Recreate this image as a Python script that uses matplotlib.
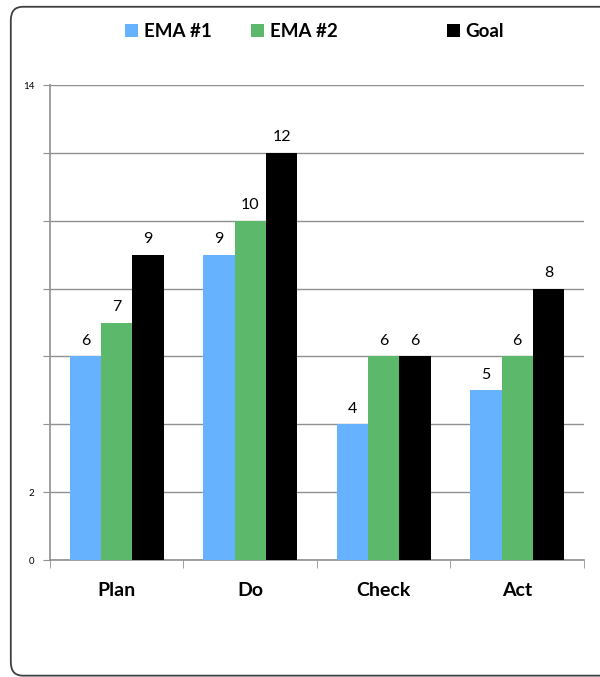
import numpy as np
import matplotlib.pyplot as plt
from matplotlib.patches import FancyBboxPatch

# PDCA scores per phase
categories = ['Plan', 'Do', 'Check', 'Act']
ema1 = [6, 9, 4, 5]
ema2 = [7, 10, 6, 6]
goal = [9, 12, 6, 8]
series_names = ['EMA #1', 'EMA #2', 'Goal']
colors = ['#66B2FF', '#5CB86A', '#000000']

plt.rcParams['font.family'] = ['Lato', 'DejaVu Sans']

fig = plt.figure(figsize=(6, 6.77), dpi=100)
ax = fig.add_axes([0.0833, 0.1728, 0.8900, 0.7016])

# rounded outer frame (right edge runs off the image)
frame = FancyBboxPatch((0.018, 0.002), 1.2, 0.988, boxstyle='round,pad=0,rounding_size=0.02',
                       transform=fig.transFigure, fill=False, edgecolor='#404040', lw=1.3,
                       clip_on=False)
fig.patches.append(frame)

x = np.arange(len(categories))
w = 0.235
handles = []
for i, (vals, name, c) in enumerate(zip([ema1, ema2, goal], series_names, colors)):
    bars = ax.bar(x + (i - 1) * w, vals, w, color=c, label=name, zorder=3)
    handles.append(bars)
    for b, v in zip(bars, vals):
        ax.text(b.get_x() + b.get_width() / 2, v + 0.25, str(v), ha='center', va='bottom',
                fontsize=11.5, color='black')

ax.set_xlim(-0.5, len(categories) - 0.5)
ax.set_ylim(0, 14)
ax.set_yticks(np.arange(0, 15, 2))
ax.set_yticklabels(['0', '2', '', '', '', '', '', '14'], fontsize=7)
ax.yaxis.grid(True, color='#909090', lw=1, zorder=0)
ax.tick_params(axis='y', length=5, color='#909090', pad=6)

ax.set_xticks(x)
ax.set_xticklabels(categories, fontsize=14, fontweight='bold')
ax.tick_params(axis='x', length=0, pad=16)
ax.set_xticks(np.arange(-0.5, len(categories), 1), minor=True)
ax.tick_params(axis='x', which='minor', length=6, color='#909090')

for s in ['top', 'right']:
    ax.spines[s].set_visible(False)
for s in ['left', 'bottom']:
    ax.spines[s].set_color('#909090')
    ax.spines[s].set_linewidth(1.2)

# legend entries sit at uneven positions across the top
leg_x = [0.208, 0.418, 0.745]
for h, name, lx in zip(handles, series_names, leg_x):
    leg = fig.legend(handles=[h], labels=[name], loc='center left', bbox_to_anchor=(lx, 0.953),
                     frameon=False, handlelength=0.7, handleheight=0.7, handletextpad=0.3,
                     borderpad=0, borderaxespad=0, prop={'weight': 'bold', 'size': 13.5})

fig.savefig('out.png', dpi=100)
